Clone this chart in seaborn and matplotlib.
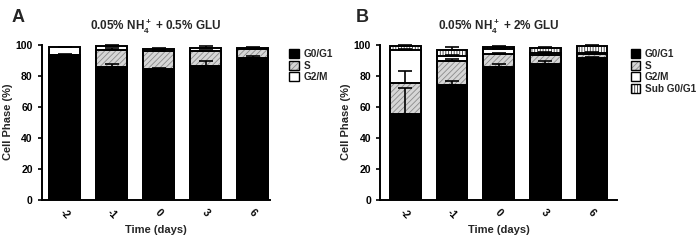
import matplotlib
matplotlib.use("Agg")
import matplotlib.pyplot as plt
import seaborn as sns
import numpy as np
from matplotlib.patches import Patch
from matplotlib.legend_handler import HandlerTuple

# ---------------- data ----------------
days = ["-2", "-1", "0", "3", "6"]

# Panel A: 0.05% NH4+ + 0.5% GLU
a_g0g1 = [93.5, 86.0, 84.6, 86.8, 91.8]
a_s = [0.5, 11.0, 11.8, 9.6, 5.6]
a_g2m = [4.8, 2.6, 1.4, 1.8, 1.0]
a_err_g0g1 = [0.4, 2.0, 0.4, 3.0, 1.0]
a_err_s = [0.3, 1.5, 0.3, 0.5, 0.4]
a_err_g2m = [0.3, 0.3, 0.3, 1.6, 0.3]

# Panel B: 0.05% NH4+ + 2% GLU
b_g0g1 = [55.7, 74.6, 86.0, 87.8, 91.6]
b_s = [19.9, 15.3, 8.6, 5.8, 2.6]
b_g2m = [21.4, 3.1, 2.8, 1.3, 1.1]
b_sub = [2.4, 3.8, 1.6, 3.6, 4.0]
b_err_g0g1 = [16.7, 2.1, 2.2, 2.1, 1.0]
b_err_s = [7.8, 1.1, 0.6, 1.7, 0.5]
b_err_g2m = [0.5, 0.5, 0.5, 0.5, 0.5]
b_err_sub = [0.6, 2.0, 0.5, 0.3, 0.7]

phase_labels_a = ["G0/G1", "S", "G2/M"]
phase_labels_b = ["G0/G1", "S", "G2/M", "Sub G0/G1"]

# ---------------- style ----------------
sns.set_style("ticks")
plt.rcParams["font.family"] = ["Liberation Sans", "DejaVu Sans"]
plt.rcParams["font.weight"] = "bold"
plt.rcParams["mathtext.fontset"] = "custom"
plt.rcParams["mathtext.rm"] = "Liberation Sans:bold"
plt.rcParams["mathtext.it"] = "Liberation Sans:bold"
plt.rcParams["mathtext.bf"] = "Liberation Sans:bold"
plt.rcParams["hatch.linewidth"] = 0.6

styles = {
    "G0/G1": dict(face="black", hatch=None, hcol="black"),
    "S": dict(face="#d6d6d6", hatch="//////", hcol="#8a8a8a"),
    "G2/M": dict(face="white", hatch=None, hcol="white"),
    "Sub G0/G1": dict(face="white", hatch="||||||", hcol="#333333"),
}

fig = plt.figure(figsize=(7.0, 2.4), dpi=100)
axA = fig.add_axes([0.0596, 0.1667, 0.326, 0.648])
axB = fig.add_axes([0.543, 0.1667, 0.338, 0.648])

BAR_W = 0.66
EDGE_LW = 1.4


def draw_panel(ax, layers, labels, errs, xlim, leg_x):
    cums = np.cumsum(np.array(layers, dtype=float), axis=0)
    # draw from the top segment down so lower segments overlay
    for i in range(len(layers) - 1, -1, -1):
        st = styles[labels[i]]
        sns.barplot(x=days, y=cums[i], order=days, color=st["face"],
                    saturation=1, width=BAR_W, ax=ax, linewidth=0,
                    edgecolor=st["hcol"], hatch=st["hatch"])
        sns.barplot(x=days, y=cums[i], order=days, color="black",
                    fill=False, width=BAR_W, ax=ax, linewidth=EDGE_LW)
    pos = np.arange(len(days))
    for i in range(len(layers)):
        e = np.array(errs[i], dtype=float)
        ax.errorbar(pos, cums[i], yerr=[np.zeros_like(e), e], fmt="none",
                    ecolor="black", elinewidth=1.2, capsize=5, capthick=1.2,
                    zorder=10)
    ax.set_xlim(*xlim)
    ax.set_ylim(0, 100.5)
    ax.set_yticks([0, 20, 40, 60, 80, 100])
    ax.spines["top"].set_visible(False)
    ax.spines["right"].set_visible(False)
    ax.spines["left"].set_bounds(0, 100)
    for sp in ("left", "bottom"):
        ax.spines[sp].set_linewidth(1.4)
        ax.spines[sp].set_color("black")
    ax.tick_params(axis="both", direction="out", length=3, width=1.2,
                   labelsize=7.5, colors="black")
    ax.tick_params(axis="x", length=0, pad=5)
    for lab in ax.get_xticklabels():
        lab.set_rotation(-45)
        lab.set_ha("center")
        lab.set_va("top")
        lab.set_fontweight("bold")
    for lab in ax.get_yticklabels():
        lab.set_fontweight("bold")
    ax.set_xlabel("Time (days)", fontsize=8, fontweight="bold", labelpad=3)
    ax.set_ylabel("Cell Phase (%)", fontsize=8, fontweight="bold", labelpad=2)

    handles = []
    for lab in labels:
        st = styles[lab]
        fillp = Patch(facecolor=st["face"], edgecolor=st["hcol"],
                      hatch=st["hatch"], linewidth=0)
        outp = Patch(facecolor="none", edgecolor="black", linewidth=1.0)
        handles.append((fillp, outp))
    ax.legend(handles, labels, handler_map={tuple: HandlerTuple(ndivide=1, pad=0)},
              loc="upper left", bbox_to_anchor=(leg_x, 0.97), frameon=False,
              fontsize=7.2, handlelength=0.95, handleheight=0.95,
              labelspacing=0.15, handletextpad=0.45, borderaxespad=0,
              borderpad=0)


draw_panel(axA, [a_g0g1, a_s, a_g2m], phase_labels_a,
           [a_err_g0g1, a_err_s, a_err_g2m], (-0.49, 4.37), 1.085)
draw_panel(axB, [b_g0g1, b_s, b_g2m, b_sub], phase_labels_b,
           [b_err_g0g1, b_err_s, b_err_g2m, b_err_sub], (-0.54, 4.53), 1.06)

axA.set_title(r"0.05% NH$_4^+$ + 0.5% GLU", fontsize=8.5, fontweight="bold", pad=11)
axB.set_title(r"0.05% NH$_4^+$ + 2% GLU", fontsize=8.5, fontweight="bold", pad=11)

fig.text(0.017, 0.925, "A", fontsize=13, fontweight="bold", va="center", ha="left")
fig.text(0.508, 0.925, "B", fontsize=13, fontweight="bold", va="center", ha="left")

fig.savefig("out.png", dpi=100, facecolor="white")
